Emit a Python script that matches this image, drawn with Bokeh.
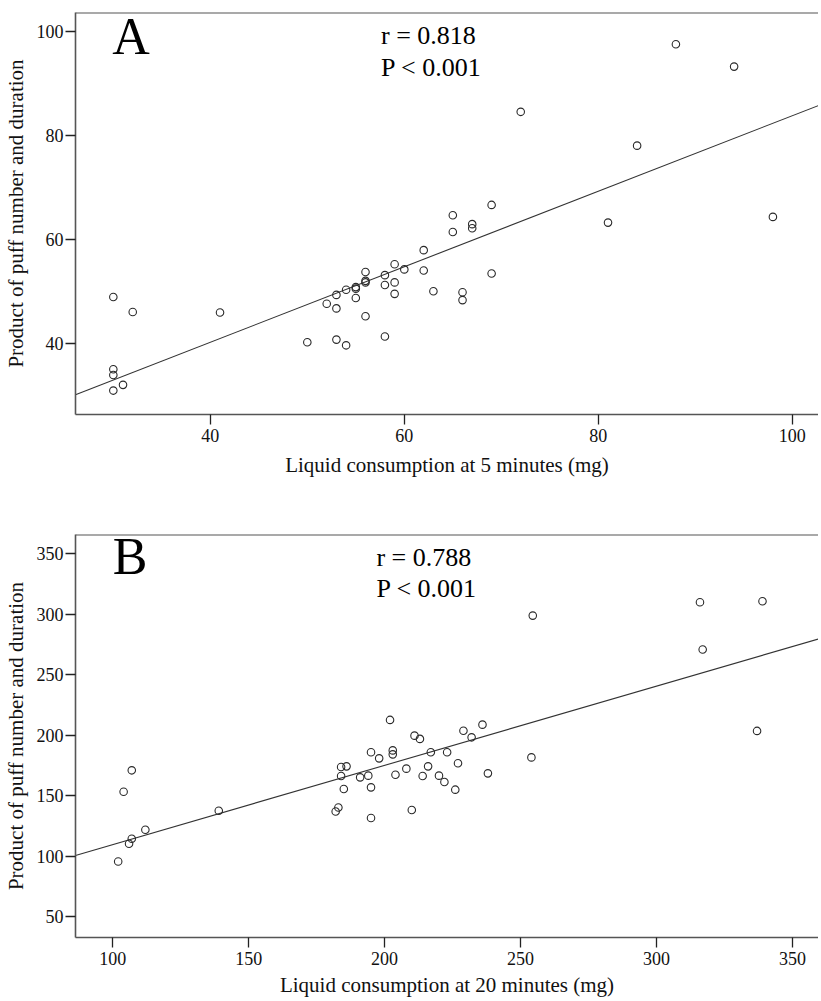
from bokeh.plotting import figure
from bokeh.layouts import column
from bokeh.models import Label, Span, Range1d, FixedTicker
from bokeh.embed import file_html
from bokeh.resources import INLINE

FONT = "Liberation Serif"

# ---------------- Panel A data (5 minutes) ----------------
liquid_5min = [30, 32, 41, 30, 30, 31, 30,
               50, 53, 54, 52, 53, 53, 54, 55, 55, 55,
               56, 56, 56, 56, 58, 58, 58, 59, 59, 59, 60,
               62, 62, 63, 65, 65, 66, 66, 67, 67, 69, 69,
               72, 81, 84, 88, 94, 98]
product_5min = [49.0, 46.1, 46.0, 35.1, 34.0, 32.1, 31.0,
                40.3, 40.8, 39.7, 47.7, 49.4, 46.8, 50.4, 50.6, 50.9, 48.8,
                53.8, 51.8, 52.1, 45.3, 53.2, 51.3, 41.4, 55.3, 51.8, 49.6, 54.3,
                58.0, 54.1, 50.1, 64.7, 61.5, 49.9, 48.4, 63.0, 62.2, 66.7, 53.5,
                84.6, 63.3, 78.1, 97.6, 93.3, 64.4]
fit_5min = (11.25, 0.726)          # intercept, slope of the drawn regression line
stats_5min = ["r = 0.818", "P < 0.001"]
xticks_5min = [40, 60, 80, 100]
yticks_5min = [40, 60, 80, 100]

# ---------------- Panel B data (20 minutes) ----------------
liquid_20min = [102, 104, 106, 107, 107, 112, 139,
                182, 183, 184, 184, 185, 186, 191, 194, 195, 195, 195, 198,
                202, 203, 203, 204, 208, 210, 211, 213, 214, 216, 217,
                220, 222, 223, 226, 227, 229, 232, 236, 238,
                254, 254.5, 316, 317, 339, 337]
product_20min = [95.5, 153.2, 110.2, 114.3, 170.9, 121.8, 137.5,
                 136.9, 140.2, 173.7, 166.2, 155.5, 174.2, 165.1, 166.5, 185.8, 156.8, 131.5, 180.8,
                 212.6, 187.4, 184.1, 167.3, 172.3, 138.1, 199.6, 196.9, 166.2, 174.2, 185.8,
                 166.5, 161.3, 185.8, 154.9, 176.7, 203.7, 198.2, 208.7, 168.4,
                 181.6, 298.9, 309.9, 270.8, 310.8, 203.5]
fit_20min = (43.95, 0.6553)
stats_20min = ["r = 0.788", "P < 0.001"]
xticks_20min = [100, 150, 200, 250, 300, 350]
yticks_20min = [50, 100, 150, 200, 250, 300, 350]

ylabel = "Product of puff number and duration"


def panel(xs, ys, fit, xr, yr, xticks, yticks, xlabel, letter, stats,
          letter_pos, stats_pos, top, frame_h, bottom, xlab_standoff):
    p = figure(frame_width=743, frame_height=frame_h,
               x_range=Range1d(*xr), y_range=Range1d(*yr),
               output_backend="svg", toolbar_location=None,
               min_border_left=70, min_border_right=0,
               min_border_top=top, min_border_bottom=bottom,
               background_fill_color="white", border_fill_color="white",
               outline_line_color=None)
    p.xgrid.visible = False
    p.ygrid.visible = False
    for ax, ticks in ((p.xaxis[0], xticks), (p.yaxis[0], yticks)):
        ax.ticker = FixedTicker(ticks=ticks)
        ax.minor_tick_line_color = None
        ax.major_tick_in = 0
        ax.major_tick_out = 10
        ax.major_tick_line_color = "#222222"
        ax.major_tick_line_width = 1.3
        ax.axis_line_color = "#555555"
        ax.axis_line_width = 1.6
        ax.major_label_text_font = FONT
        ax.major_label_text_font_size = "18px"
        ax.major_label_text_color = "#111111"
        ax.axis_label_text_font = FONT
        ax.axis_label_text_font_size = "21px"
        ax.axis_label_text_font_style = "normal"
        ax.axis_label_text_color = "#111111"
    p.xaxis.axis_label = xlabel
    p.yaxis.axis_label = ylabel
    p.xaxis.major_label_standoff = 4
    p.xaxis.axis_label_standoff = xlab_standoff
    p.yaxis.major_label_standoff = 2
    p.yaxis.axis_label_standoff = 6

    # top frame line
    p.add_layout(Span(location=yr[1], dimension="width",
                      line_color="#555555", line_width=2))

    # regression line over the full x range
    b0, b1 = fit
    lx = [xr[0], xr[1]]
    ly = [b0 + b1 * v for v in lx]
    p.line(lx, ly, line_color="#333333", line_width=1.1)

    p.scatter(xs, ys, marker="circle", size=7.5, fill_color=None,
              line_color="#2a2a2a", line_width=1.1)

    p.add_layout(Label(x=letter_pos[0], y=letter_pos[1], text=letter,
                       text_font=FONT, text_font_size="52px",
                       text_color="#000000", text_baseline="alphabetic"))
    p.add_layout(Label(x=stats_pos[0], y=stats_pos[1], text=stats[0],
                       text_font=FONT, text_font_size="26px",
                       text_color="#000000", text_baseline="alphabetic"))
    p.add_layout(Label(x=stats_pos[0], y=stats_pos[2], text=stats[1],
                       text_font=FONT, text_font_size="26px",
                       text_color="#000000", text_baseline="alphabetic"))
    return p


pa = panel(liquid_5min, product_5min, fit_5min, (26.1, 102.7), (26.4, 103.7),
           xticks_5min, yticks_5min, "Liquid consumption at 5 minutes (mg)",
           "A", stats_5min, (29.9, 99.1), (57.6, 99.2, 93.2),
           top=12, frame_h=402, bottom=80, xlab_standoff=8)

pb = panel(liquid_20min, product_20min, fit_20min, (86.3, 359.6), (32.6, 366.0),
           xticks_20min, yticks_20min, "Liquid consumption at 20 minutes (mg)",
           "B", stats_20min, (100.0, 347.6), (197.0, 347.3, 321.6),
           top=40, frame_h=403, bottom=0, xlab_standoff=5)

layout = column(pa, pb, spacing=0)
open("out.html", "w").write(file_html(layout, INLINE))
